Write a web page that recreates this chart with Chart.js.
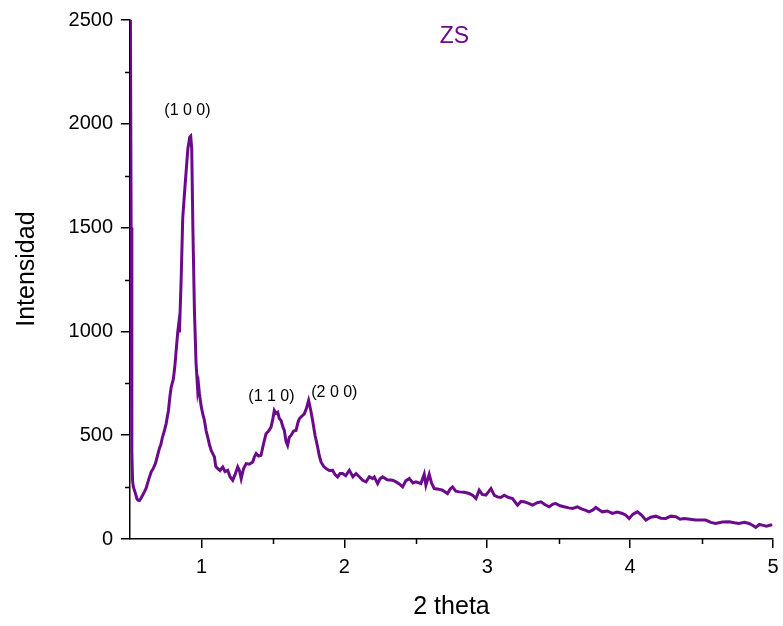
<!DOCTYPE html>
<html>
<head>
<meta charset="utf-8">
<script src="https://cdn.jsdelivr.net/npm/chart.js@4.4.1/dist/chart.umd.min.js"></script>
<style>
  html, body { margin: 0; padding: 0; background: #fff; }
  #wrap { width: 783px; height: 626px; }
</style>
</head>
<body>
<div id="wrap"><canvas id="myChart" width="783" height="626"></canvas></div>
<script>
// data
const twoTheta = [
  0.503, 0.508, 0.513, 0.518, 0.524, 0.531, 0.540, 0.548, 0.556, 0.566, 0.580, 0.595, 0.613, 0.630, 0.648,
  0.663, 0.678, 0.692, 0.706, 0.716, 0.727, 0.740, 0.753, 0.769, 0.780, 0.788, 0.804, 0.815, 0.823, 0.834,
  0.841, 0.846, 0.858, 0.869, 0.885, 0.905, 0.918, 0.925, 0.932, 0.940, 0.951, 0.962, 0.974,
  0.980, 0.986, 0.998, 1.010, 1.021, 1.033, 1.044, 1.056, 1.068, 1.080, 1.091, 1.100, 1.114, 1.130, 1.149,
  1.165, 1.184, 1.200, 1.219, 1.235, 1.254, 1.266, 1.278, 1.295, 1.313, 1.335, 1.359, 1.370, 1.383, 1.400,
  1.417, 1.435, 1.452, 1.470, 1.487, 1.500, 1.510, 1.522, 1.534, 1.545, 1.557, 1.570, 1.580, 1.592, 1.603,
  1.615, 1.627, 1.645, 1.662, 1.675, 1.685, 1.700, 1.720, 1.735, 1.750, 1.765, 1.778, 1.795, 1.813, 1.825,
  1.837, 1.855, 1.872, 1.895, 1.918, 1.935, 1.953, 1.970, 1.988, 2.010, 2.035, 2.060, 2.082, 2.105, 2.128,
  2.152, 2.175, 2.198, 2.210, 2.233, 2.250, 2.268, 2.300, 2.338, 2.362, 2.385, 2.408, 2.430, 2.455, 2.480,
  2.501, 2.536, 2.559, 2.571, 2.594, 2.610, 2.629, 2.660, 2.687, 2.722, 2.740, 2.757, 2.780, 2.804, 2.840,
  2.874, 2.900, 2.921, 2.944, 2.965, 2.991, 3.026, 3.050, 3.072, 3.095, 3.119, 3.150, 3.177, 3.212, 3.235,
  3.259, 3.290, 3.317, 3.350, 3.376, 3.405, 3.434, 3.460, 3.480, 3.510, 3.538, 3.570, 3.597, 3.631, 3.660,
  3.690, 3.713, 3.740, 3.760, 3.785, 3.806, 3.840, 3.876, 3.910, 3.946, 3.970, 3.993, 4.020, 4.051, 4.080,
  4.110, 4.145, 4.180, 4.215, 4.250, 4.285, 4.320, 4.350, 4.378, 4.420, 4.459, 4.495, 4.529, 4.565, 4.599,
  4.645, 4.692, 4.730, 4.762, 4.800, 4.832, 4.860, 4.879, 4.905, 4.925, 4.955, 4.984, 4.995
];
const intensity = [
  2500, 1500, 420, 280, 250, 235, 215, 195, 187, 185, 200, 220, 245, 285, 323,
  340, 364, 400, 437, 455, 490, 520, 556, 619, 690, 731, 772, 840, 907, 995,
  1036, 995, 1250, 1546, 1700, 1880, 1935, 1940, 1880, 1500, 1099, 850, 715,
  740, 700, 640, 600, 571, 520, 491, 455, 427, 410, 395, 350, 339, 330, 347,
  325, 331, 300, 283, 310, 347, 330, 291, 340, 363, 360, 371, 395, 412, 400,
  403, 460, 507, 520, 539, 580, 619, 605, 611, 580, 571, 540, 523, 470, 451,
  490, 499, 520, 523, 560, 579, 590, 603, 630, 667, 620, 571, 500, 443, 400,
  371, 350, 339, 330, 331, 310, 299, 315, 315, 305, 331, 300, 315, 300, 283,
  275, 300, 291, 299, 267, 290, 299, 285, 283, 275, 265, 251, 280, 291, 270,
  275, 267, 312, 259, 312, 270, 243, 240, 235, 219, 240, 251, 230, 227, 225,
  219, 210, 195, 235, 215, 211, 243, 210, 203, 200, 211, 200, 195, 163, 180,
  179, 172, 163, 175, 179, 165, 155, 168, 171, 160, 155, 150, 147, 155, 145,
  138, 131, 140, 152, 140, 131, 135, 123, 130, 123, 115, 99, 120, 131, 115,
  91, 105, 110, 100, 99, 110, 107, 95, 99, 95, 91, 92, 91, 80, 75,
  82, 83, 78, 75, 80, 75, 65, 56, 70, 67, 62, 67, 68
];

const xTicks = [1, 2, 3, 4, 5];
const xMinorTicks = [1.5, 2.5, 3.5, 4.5];
const yMinorTicks = [250, 750, 1250, 1750, 2250];

const peakLabels = ['(1 0 0)', '(1 1 0)', '(2 0 0)'];
const peakX = [0.902, 1.490, 1.930];
const peakY = [2063, 686, 705];

const sampleName = 'ZS';
const sampleX = 2.77;
const sampleY = 2418;

const purple = '#6c0a8c';
const fontFamily = 'Arial, "Liberation Sans", sans-serif';

// minor ticks, y title and text marks, placed through the chart scales
const extrasPlugin = {
  id: 'extras',
  afterDraw(chart) {
    const { ctx, chartArea, scales } = chart;
    const xs = scales.x, ys = scales.y;
    ctx.save();
    ctx.strokeStyle = '#000';
    ctx.lineWidth = 1.5;
    ctx.beginPath();
    yMinorTicks.forEach(v => {
      const py = Math.round(ys.getPixelForValue(v)) + 0.5;
      ctx.moveTo(chartArea.left - 5, py);
      ctx.lineTo(chartArea.left, py);
    });
    xMinorTicks.forEach(v => {
      const px = Math.round(xs.getPixelForValue(v)) + 0.5;
      ctx.moveTo(px, chartArea.bottom);
      ctx.lineTo(px, chartArea.bottom + 5);
    });
    ctx.stroke();

    ctx.textAlign = 'center';
    ctx.textBaseline = 'middle';

    // y axis title, a bit above the axis middle as in the source
    ctx.save();
    ctx.fillStyle = '#000';
    ctx.font = '25px ' + fontFamily;
    ctx.translate(27, ys.getPixelForValue(1300));
    ctx.rotate(-Math.PI / 2);
    ctx.fillText('Intensidad', 0, 0);
    ctx.restore();

    ctx.fillStyle = '#000';
    ctx.font = '16px ' + fontFamily;
    peakLabels.forEach((t, i) => {
      ctx.fillText(t, xs.getPixelForValue(peakX[i]), ys.getPixelForValue(peakY[i]));
    });
    ctx.fillStyle = purple;
    ctx.font = '23px ' + fontFamily;
    ctx.fillText(sampleName, xs.getPixelForValue(sampleX), ys.getPixelForValue(sampleY));
    ctx.restore();
  }
};

const ctx = document.getElementById('myChart');

const xrdChart = new Chart(ctx, {
  type: 'line',
  data: {
    datasets: [{
      data: twoTheta.map((t, i) => ({ x: t, y: intensity[i] })),
      borderColor: purple,
      borderWidth: 3,
      pointRadius: 0,
      tension: 0,
      fill: false,
    }]
  },
  options: {
    responsive: false,
    animation: false,
    layout: { padding: { top: 13, right: 10, bottom: 0, left: 0 } },
    plugins: { legend: { display: false }, tooltip: { enabled: false } },
    scales: {
      x: {
        type: 'linear',
        min: 0.5,
        max: 5,
        afterBuildTicks: s => { s.ticks = xTicks.map(v => ({ value: v })); },
        afterFit: s => { s.height = 87; s.paddingLeft = 0; s.paddingRight = 0; },
        border: { color: '#000', width: 1.5 },
        grid: { drawOnChartArea: false, drawTicks: true, tickLength: 9, color: '#000', lineWidth: 1.5 },
        ticks: { color: '#000', font: { family: fontFamily, size: 20 }, padding: 7, maxRotation: 0,
                 callback: v => String(v) },
        title: { display: true, text: '2 theta', color: '#000', font: { family: fontFamily, size: 25 }, padding: { top: 0, bottom: 4 } }
      },
      y: {
        min: 0,
        max: 2500,
        ticks: { stepSize: 500, color: '#000', font: { family: fontFamily, size: 20 }, padding: 8,
                 callback: v => String(v) },
        afterFit: s => { s.width = 130; },
        border: { color: '#000', width: 1.5 },
        grid: { drawOnChartArea: false, drawTicks: true, tickLength: 9, color: '#000', lineWidth: 1.5 }
      }
    }
  },
  plugins: [extrasPlugin]
});
</script>
</body>
</html>
